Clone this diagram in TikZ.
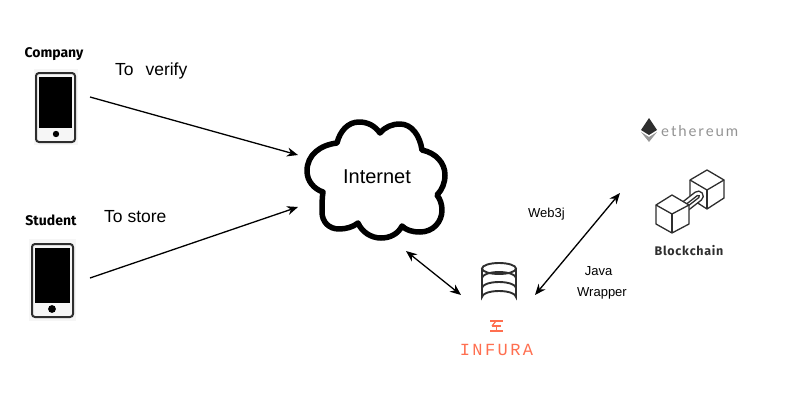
\documentclass[tikz,border=0pt]{standalone}
\usepackage{fontspec}
\setmainfont{Liberation Sans}
\newfontfamily\labelfont{Fira Sans}
\newfontfamily\ethfont{Lato}
\newfontfamily\infurafont{Liberation Mono}
\usetikzlibrary{arrows.meta}
\definecolor{infuracol}{HTML}{FF6F50}
\definecolor{phonebg}{HTML}{F6F6F6}
\definecolor{iconcol}{HTML}{2E2E2E}
\tikzset{
    conn/.style={line width=1.3pt, -{Stealth[length=11pt, width=9pt]}},
    connboth/.style={conn, {Stealth[length=11pt, width=9pt]}-{Stealth[length=11pt, width=9pt]}},
    caption/.style={font=\fontsize{17.5}{20}\selectfont, inner sep=0pt},
    smalltext/.style={font=\fontsize{13}{15}\selectfont, inner sep=0pt},
    devicelabel/.style={font=\labelfont\bfseries\fontsize{14}{16}\selectfont, inner sep=0pt},
    cubeline/.style={line width=1.3pt, draw=iconcol, line join=round},
    dbline/.style={line width=1.9pt, draw=iconcol},
}
\begin{document}
\begin{tikzpicture}[x=1pt, y=-1pt]
    \useasboundingbox (0, 0) rectangle (788, 400);

    \node[devicelabel] (company) at (54, 54) {Company};
    \begin{scope}
        \fill[phonebg] (34, 69) rectangle (78, 145);
        \draw[line width=2pt, rounded corners=3pt, draw=iconcol] (36, 73) rectangle (75, 142);
        \fill (39, 77) rectangle (72, 128);
        \fill (56, 134) circle (3.2);
    \end{scope}
    \node[devicelabel] (student) at (51, 220) {Student};
    \begin{scope}
        \fill[phonebg] (29, 239) rectangle (76, 321);
        \draw[line width=2pt, rounded corners=3pt, draw=iconcol] (32, 244) rectangle (73, 317);
        \fill (35, 248) rectangle (70, 303);
        \fill (52, 309) circle (3.9);
    \end{scope}

    \node[caption, anchor=west] (verify) at (115, 71) {To\hspace{7pt} verify};
    \node[caption, anchor=west] (store) at (104, 217) {To store};

    \draw[line width=5.5pt, fill=white, line join=round] (380, 133)
        .. controls (385, 127) and (392, 124) .. (400, 124)
        .. controls (412, 124) and (420, 136) .. (422, 150)
        .. controls (436, 153) and (445, 163) .. (445, 175)
        .. controls (445, 183) and (442, 190) .. (437, 195)
        .. controls (440, 199) and (442, 204) .. (442, 210)
        .. controls (442, 222) and (433, 232) .. (420, 232)
        .. controls (412, 232) and (406, 230) .. (402, 226)
        .. controls (398, 234) and (390, 238) .. (381, 238)
        .. controls (371, 238) and (362, 232) .. (358, 223)
        .. controls (353, 227) and (346, 229) .. (339, 229)
        .. controls (329, 229) and (322, 222) .. (322, 212)
        .. controls (322, 205) and (322, 198) .. (323, 192)
        .. controls (314, 189) and (307, 181) .. (307, 171)
        .. controls (307, 155) and (320, 145) .. (337, 143)
        .. controls (340, 131) and (348, 122) .. (359, 122)
        .. controls (368, 122) and (375, 126) .. (380, 133) -- cycle;
    \node[font=\fontsize{20}{22}\selectfont] (internet) at (377, 177) {Internet};

    \coordinate (companyout) at (90, 97);
    \coordinate (cloudin1) at (298, 155);
    \coordinate (studentout) at (90, 278);
    \coordinate (cloudin2) at (298, 207);
    \coordinate (cloudout) at (406, 251);
    \coordinate (infuraleft) at (461, 295);
    \coordinate (infuraright) at (535, 295);
    \coordinate (chainin) at (620, 193);
    \draw[conn] (companyout) -- (cloudin1);
    \draw[conn] (studentout) -- (cloudin2);
    \draw[connboth] (cloudout) -- (infuraleft);
    \draw[connboth] (infuraright) -- (chainin);

    \node[smalltext] (webj) at (546.5, 214) {Web3j};
    \node[smalltext] (java) at (598.5, 271) {Java};
    \node[smalltext] (wrapper) at (602, 293) {Wrapper};

    \draw[dbline] (482, 268.5) -- (482, 297) arc[start angle=180, end angle=360, x radius=17, y radius=6] -- (516, 268.5);
    \draw[dbline] (499, 268.5) ellipse (17 and 5.5);
    \draw[dbline] (482, 278) arc[start angle=180, end angle=360, x radius=17, y radius=6];
    \draw[dbline] (482, 288) arc[start angle=180, end angle=360, x radius=17, y radius=6];

    \begin{scope}[infuracol, line width=1.2pt]
        \draw (490, 321) -- (503, 321);
        \draw (490, 331) -- (503, 331);
        \draw (492, 326) -- (501, 326);
        \draw (496.5, 326) -- (496.5, 331);
        \draw (496, 321) -- (492, 326);
    \end{scope}
    \node[text=infuracol, font=\infurafont\fontsize{17}{18}\selectfont, inner sep=0pt] (infura) at (496.5, 349.5) {I\hspace{2.4pt}N\hspace{2.4pt}F\hspace{2.4pt}U\hspace{2.4pt}R\hspace{2.4pt}A};

    \fill[iconcol] (649, 118) -- (657, 130) -- (649, 135) -- (641, 130) -- cycle;
    \fill[gray!80] (641, 132) -- (649, 137) -- (657, 132) -- (649, 142) -- cycle;
    \node[text=gray!85, font=\ethfont\fontsize{15}{17}\selectfont, anchor=west, inner sep=0pt] (ethereum) at (661, 131) {e\hspace{1.9pt}t\hspace{1.9pt}h\hspace{1.9pt}e\hspace{1.9pt}r\hspace{1.9pt}e\hspace{1.9pt}u\hspace{1.9pt}m};

    \draw[cubeline] (707, 170) -- (724, 180) -- (724, 198) -- (707, 209) -- (690, 198) -- (690, 180) -- cycle;
    \draw[cubeline] (690, 180) -- (707, 190) -- (724, 180);
    \draw[cubeline] (707, 190) -- (707, 209);
    \draw[cubeline, fill=white, rounded corners=5pt, rotate around={38:(692, 201)}] (679, 196) rectangle (705, 206);
    \draw[cubeline, rounded corners=1.5pt, rotate around={38:(692, 201)}] (685, 200) rectangle (701, 202.5);
    \draw[cubeline, fill=white] (672, 195) -- (689, 205) -- (689, 224) -- (672, 233) -- (656, 224) -- (656, 205) -- cycle;
    \draw[cubeline] (656, 205) -- (672, 214) -- (689, 205);
    \draw[cubeline] (672, 214) -- (672, 233);
    \node[font=\labelfont\bfseries\fontsize{12.5}{13}\selectfont, text=iconcol, inner sep=0pt] (blockchain) at (689, 251) {B\hspace{.7pt}l\hspace{.7pt}o\hspace{.7pt}c\hspace{.7pt}k\hspace{.7pt}c\hspace{.7pt}h\hspace{.7pt}a\hspace{.7pt}i\hspace{.7pt}n};
\end{tikzpicture}
\end{document}
